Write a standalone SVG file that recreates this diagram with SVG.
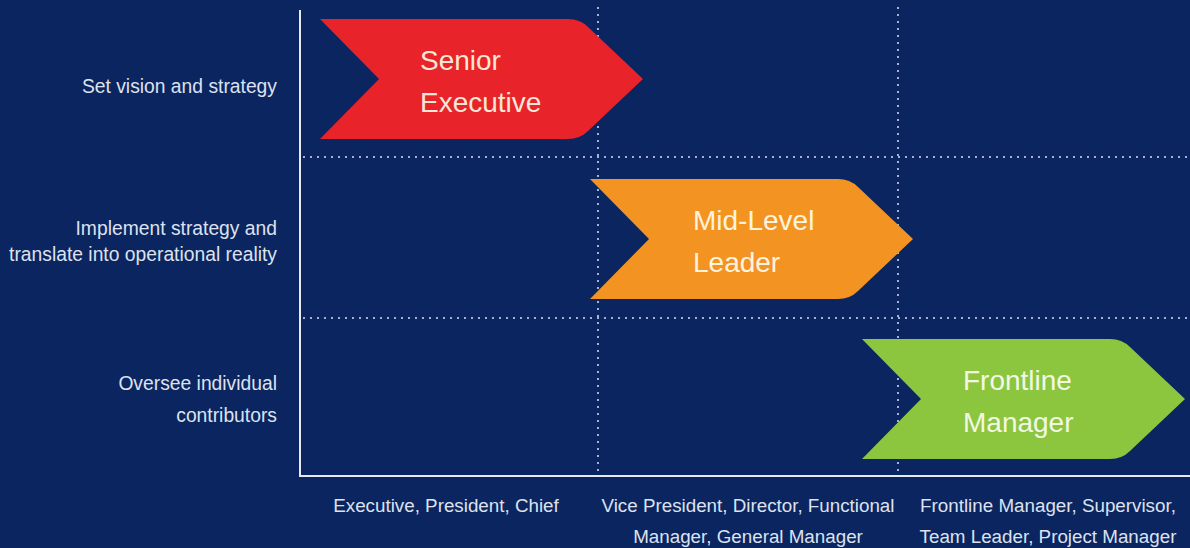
<svg xmlns="http://www.w3.org/2000/svg" width="1190" height="548" viewBox="0 0 1190 548">
  <defs>
    <style>
      .bg { fill: #0b2560; }
      .axis { stroke: #e6eaf3; stroke-width: 2; fill: none; }
      .grid { stroke: #c8d2ea; stroke-width: 2.2; stroke-dasharray: 0 7; stroke-linecap: round; fill: none; }
      .lbl { font-family: "Liberation Sans", Arial, sans-serif; font-size: 18.8px; fill: #dde2ee; }
      .right { text-anchor: end; font-size: 19.3px; }
      .mid { text-anchor: middle; }
      .ctext { font-family: "Liberation Sans", Arial, sans-serif; font-size: 28px; }
    </style>
    <path id="chev" d="M0,0 H248 Q260,0 268,8 L323,60 L268,112 Q260,120 248,120 H0 L59,60 Z"/>
  </defs>

  <rect class="bg" x="0" y="0" width="1190" height="548"/>

  <g id="grid">
    <line class="grid" x1="598" y1="8" x2="598" y2="476"/>
    <line class="grid" x1="898" y1="8" x2="898" y2="476"/>
    <line class="grid" x1="304" y1="157" x2="1190" y2="157"/>
    <line class="grid" x1="304" y1="318" x2="1190" y2="318"/>
  </g>

  <g id="axes">
    <polyline class="axis" points="300,10 300,476 1190,476"/>
  </g>

  <g id="connectors"></g>

  <g id="senior-executive" transform="translate(320,19)">
    <use href="#chev" fill="#e8232a"/>
    <text class="ctext" fill="#f8e6d6" x="100" y="51">Senior</text>
    <text class="ctext" fill="#f8e6d6" x="100" y="93">Executive</text>
  </g>

  <g id="mid-level-leader" transform="translate(590,179)">
    <use href="#chev" fill="#f39422"/>
    <text class="ctext" fill="#fff3de" x="103" y="51">Mid-Level</text>
    <text class="ctext" fill="#fff3de" x="103" y="93">Leader</text>
  </g>

  <g id="frontline-manager" transform="translate(862,339)">
    <use href="#chev" fill="#8cc63f"/>
    <text class="ctext" fill="#f2f8e4" x="101" y="51">Frontline</text>
    <text class="ctext" fill="#f2f8e4" x="101" y="93">Manager</text>
  </g>

  <g id="row-labels">
    <text class="lbl right" x="277" y="93">Set vision and strategy</text>
    <text class="lbl right" x="277" y="235">Implement strategy and</text>
    <text class="lbl right" x="277" y="261">translate into operational reality</text>
    <text class="lbl right" x="277" y="390">Oversee individual</text>
    <text class="lbl right" x="277" y="422">contributors</text>
  </g>

  <g id="column-labels">
    <text class="lbl mid" x="446" y="512">Executive, President, Chief</text>
    <text class="lbl mid" x="748" y="512">Vice President, Director, Functional</text>
    <text class="lbl mid" x="748" y="543">Manager, General Manager</text>
    <text class="lbl mid" x="1048" y="512">Frontline Manager, Supervisor,</text>
    <text class="lbl mid" x="1048" y="543">Team Leader, Project Manager</text>
  </g>
</svg>
